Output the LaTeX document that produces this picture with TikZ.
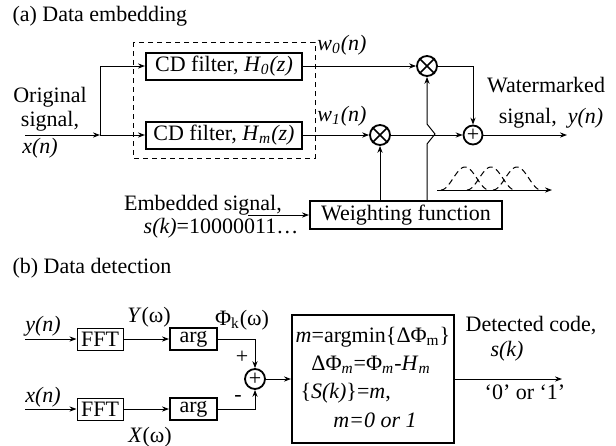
\documentclass[tikz,border=0pt]{standalone}
\usepackage{fontspec}
\setmainfont{Liberation Serif}
\usetikzlibrary{arrows.meta,positioning}

\begin{document}
\begin{tikzpicture}[x=0.5pt, y=-0.5pt, line width=0.5pt, font=\fontsize{11}{12}\selectfont,
        >={Stealth[length=3.5pt,width=2.6pt]},
        main/.style = {draw, line width=1pt, inner sep=0pt},
        fftbox/.style = {draw, line width=0.5pt, inner sep=0pt, minimum width=23pt, minimum height=11pt},
        op/.style = {draw, circle, line width=0.9pt, inner sep=0pt, minimum size=10pt},
        lbl/.style = {inner sep=0pt}]
    \useasboundingbox (0,0) rectangle (616,445);

    % (a) data embedding
    \node[lbl, anchor=west] (ta) at (12,16) {(a) Data embedding};
    \draw[dash pattern=on 2.5pt off 2pt] (133,42) rectangle (315,158);
    \node[main, minimum width=78pt, minimum height=13.5pt] (f0) at (224,66) {CD filter, \textit{H}\textsubscript{\textit{0}}\textit{(z)}};
    \node[main, minimum width=78pt, minimum height=13.5pt] (f1) at (224,135) {CD filter, \textit{H}\textsubscript{\textit{m}}\textit{(z)}};
    \coordinate (in) at (25,135);
    \coordinate (j) at (100,135);
    \node[lbl, align=center, anchor=south] (orig) at (50,132) {Original\\signal,};
    \node[lbl] (xn) at (40,148) {\textit{x(n)}};
    \draw[->] (in) to (j);
    \draw[->] (j) |- (f0);
    \draw[->] (j) to (f1);

    \node[op] (m0) at (427,66) {};
    \node[op] (m1) at (380,135) {};
    \node[op, minimum size=9.5pt] (add) at (473,135) {+};
    \draw[line width=0.8pt] (m0.north west) -- (m0.south east) (m0.north east) -- (m0.south west);
    \draw[line width=0.8pt] (m1.north west) -- (m1.south east) (m1.north east) -- (m1.south west);
    \node[lbl] (w0) at (342,45) {\textit{w}\textsubscript{\textit{0}}\textit{(n)}};
    \node[lbl] (w1) at (342,116) {\textit{w}\textsubscript{\textit{1}}\textit{(n)}};
    \draw[->] (f0) to (m0);
    \draw[->] (f1) to (m1);
    \draw[->] (m1) to (add);
    \draw[->] (m0) -| (add);
    \coordinate (out) at (567,135);
    \draw[->] (add) to (out);
    \node[lbl] (wm) at (546,85) {Watermarked};
    \node[lbl] (sy) at (551,118) {signal,\ \ \textit{y(n)}};

    \node[main, minimum width=96pt, minimum height=14pt] (wf) at (406,215) {Weighting function};
    \draw[->] (wf.north -| m1) to (m1);
    \draw[->] (wf.north -| m0) -- ++(0,-56) -- ++(8,-10) -- ++(-8,-10) -- (m0);
    \node[lbl] (es) at (203,205) {Embedded signal,};
    \node[lbl] (sk) at (221,228) {\textit{s(k)}=10000011\ldots};
    \coordinate (e0) at (248,215);
    \draw[->] (e0) to (wf);

    % weighting windows
    \coordinate (g0) at (437,190);
    \coordinate (g1) at (552,190);
    \draw[->] (g0) to (g1);
    \foreach \mu in {465,491,517}
        \draw[dash pattern=on 3pt off 2pt, domain=-24:24, samples=40] plot ({\mu+\x},{190-11.5*(1+cos(180*\x/24))});

    % (b) data detection
    \node[lbl, anchor=west] (tb) at (12,268) {(b) Data detection};
    \node[fftbox] (fy) at (100,339) {FFT};
    \node[fftbox] (fx) at (100,409) {FFT};
    \node[main, minimum width=23.5pt, minimum height=11pt] (ay) at (193.5,339) {arg};
    \node[main, minimum width=23.5pt, minimum height=11pt] (ax) at (193.5,409) {arg};
    \node[op] (sub) at (255,379) {+};
    \node[main, minimum width=81pt, minimum height=64pt] (dec) at (373,379) {};
    \coordinate (yin) at (25,339);
    \coordinate (xin) at (25,409);
    \node[lbl] (yn) at (43,326) {\textit{y(n)}};
    \node[lbl] (xn2) at (43,397) {\textit{x(n)}};
    \draw[->] (yin) to (fy);
    \draw[->] (xin) to (fx);
    \draw[->] (fy) to (ay);
    \draw[->] (fx) to (ax);
    \node[lbl] (Yw) at (149,317) {\textit{Y}(ω)};
    \node[lbl] (Xw) at (150,437) {\textit{X}(ω)};
    \node[lbl] (phk) at (242,320) {Φ\textsubscript{k}(ω)};
    \draw[->] (ay) -| (sub);
    \draw[->] (ax) -| (sub);
    \node[lbl] (plus) at (242,357) {+};
    \node[lbl] (minus) at (238,398) {-};
    \draw[->] (sub) to (dec);

    \node[lbl] (d1) at (373,337) {\textit{m}=argmin\{ΔΦ\textsubscript{m}\}};
    \node[lbl] (d2) at (371,365) {ΔΦ\textsubscript{\textit{m}}=Φ\textsubscript{\textit{m}}-\textit{H}\textsubscript{\textit{m}}};
    \node[lbl, anchor=west] (d3) at (300,393) {\{\textit{S(k)}\}=\textit{m},};
    \node[lbl] (d4) at (375,420) {\textit{m=0 or 1}};

    \coordinate (dout) at (562,379);
    \draw[->] (dec) to (dout);
    \node[lbl] (dc) at (531,326) {Detected code,};
    \node[lbl] (sk2) at (507,351) {\textit{s(k)}};
    \node[lbl] (bits) at (525,392) {‘0’ or ‘1’};
\end{tikzpicture}
\end{document}
